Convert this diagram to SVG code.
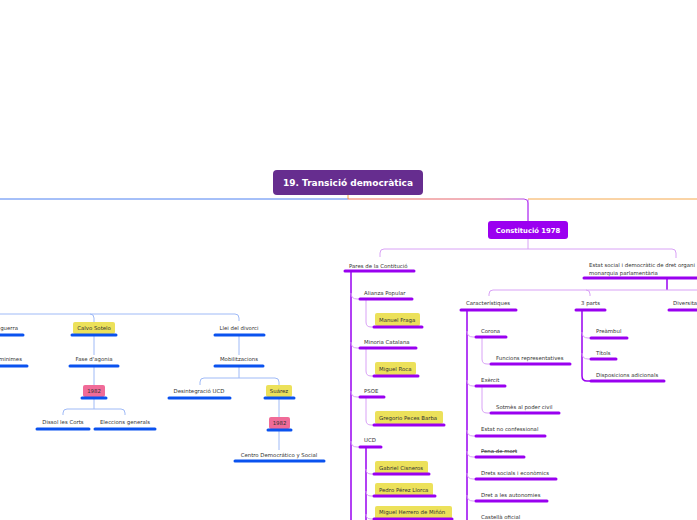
<svg xmlns="http://www.w3.org/2000/svg" width="697" height="520" viewBox="0 0 697 520">
<defs>
<linearGradient id="gr" x1="0" y1="0" x2="1" y2="0">
<stop offset="0" stop-color="#f4704f"/>
<stop offset="0.8" stop-color="#e0607a"/>
<stop offset="1" stop-color="#b040f0"/>
</linearGradient>
<style>
.t{font-family:"DejaVu Sans",Verdana,sans-serif;font-size:5.4px;fill:#333}
.c{text-anchor:middle}
.up{stroke:#9900f0;stroke-width:3;stroke-linecap:round}
.ub{stroke:#0a52ef;stroke-width:3;stroke-linecap:round}
.sp{stroke:#9900f0;stroke-width:1.5;fill:none}
.cp{stroke:#d9a2f6;stroke-width:1;fill:none}
.cb{stroke:#9fbaf7;stroke-width:1;fill:none}
.y{fill:#ece15a}
.pk{fill:#f06b98}
</style>
</defs>
<rect width="697" height="520" fill="#fff"/>
<g id="connectors">
<path d="M0,199 H348" stroke="#4d80f2" stroke-width="1" fill="none"/>
<path d="M348,195 V199" stroke="#f5a040" stroke-width="1"/>
<path d="M528,199 H697" stroke="#f5a84c" stroke-width="1" fill="none"/>
<path d="M348,199 H524 Q528,199 528,203 V221" stroke="url(#gr)" stroke-width="1" fill="none"/>
<path d="M528,199.5 Q528,199 528,203 V221" stroke="#c050f5" stroke-width="1" fill="none"/>
<path d="M528,239 V249" class="cp"/>
<path d="M380,257 V253 Q380,249 384,249 H672 Q676,249 676,253 V258" class="cp"/>
<path d="M351,271 V520" class="sp"/>
<path d="M351,293 Q351,299 357,299 H360 M351,342 Q351,348 357,348 H360 M351,391 Q351,397 357,397 H360 M351,441 Q351,447 357,447 H360" class="cp"/>
<path d="M366,299 V322 Q366,327 371,327 H374 M366,348 V371 Q366,376 371,376 H374 M366,397 V420 Q366,425 371,425 H374" class="cp"/>
<path d="M366,447 V520" class="sp"/>
<path d="M366,469 Q366,474 371,474 H374 M366,491 Q366,496 371,496 H374 M366,514 Q366,519 371,519 H374" class="cp"/>
<path d="M667,278 V290" class="sp"/>
<path d="M489,296 V294 Q489,290 493,290 H697 M586,290 Q590,290 590,294 V296" class="cp"/>
<path d="M467,310 V520" class="sp"/>
<path d="M467,331 Q467,337 473,337 H476 M467,380 Q467,386 473,386 H476 M467,430 Q467,436 473,436 H476 M467,451 Q467,457 473,457 H476 M467,473 Q467,479 473,479 H476 M467,495 Q467,501 473,501 H476" class="cp"/>
<path d="M482,337 V359 Q482,364 487,364 H491 M482,386 V408 Q482,413 487,413 H491" class="cp"/>
<path d="M582,310 V376 Q582,381 587,381 H591" class="sp"/>
<path d="M582,332 Q582,338 588,338 H591 M582,353 Q582,359 588,359 H591" class="cp"/>
<path d="M0,314 H235 Q239,314 239,318 V321 M90,314 Q94,314 94,318 V322" class="cb"/>
<path d="M94,335 V355 M94,366 V385 M94,398 V409 M63,415 V413 Q63,409 67,409 H121 Q125,409 125,413 V415" class="cb"/>
<path d="M239,335 V355 M239,366 V378 M200,385 V382 Q200,378 204,378 H275 Q279,378 279,382 V385" class="cb"/>
<path d="M279,398 V417 M279,430 V450" class="cb"/>
</g>
<g id="main">
<rect x="273" y="170" width="150" height="25" rx="4" fill="#662d8f"/>
<text x="348" y="186" class="c" font-family="DejaVu Sans,Verdana,sans-serif" font-size="9" font-weight="bold" fill="#fff">19. Transició democràtica</text>
</g>
<g id="constitucio">
<rect x="488" y="221" width="80" height="18" rx="3" fill="#9b00f0"/>
<text x="528" y="233" class="c" font-family="DejaVu Sans,Verdana,sans-serif" font-size="6.8" font-weight="bold" fill="#fff">Constitució 1978</text>
</g>
<g id="pares"><text class="t" x="349" y="268">Pares de la Contitució</text><line class="up" x1="345" y1="271" x2="414" y2="271"/></g>
<g id="ap"><text class="t" x="364" y="295">Alianza Popular</text><line class="up" x1="360" y1="299" x2="412" y2="299"/></g>
<g id="fraga"><rect class="y" x="375" y="313" width="45" height="13" rx="2"/><text class="t" x="379" y="322">Manuel Fraga</text><line class="up" x1="374" y1="327" x2="422" y2="327"/></g>
<g id="mc"><text class="t" x="364" y="344">Minoria Catalana</text><line class="up" x1="360" y1="348" x2="416" y2="348"/></g>
<g id="roca"><rect class="y" x="375" y="362" width="41" height="13" rx="2"/><text class="t" x="379" y="371">Miguel Roca</text><line class="up" x1="374" y1="376" x2="418" y2="376"/></g>
<g id="psoe"><text class="t" x="364" y="393">PSOE</text><line class="up" x1="360" y1="397" x2="384" y2="397"/></g>
<g id="peces"><rect class="y" x="375" y="411" width="68" height="13" rx="2"/><text class="t" x="379" y="420">Gregorio Peces Barba</text><line class="up" x1="374" y1="425" x2="444" y2="425"/></g>
<g id="ucd"><text class="t" x="364" y="442">UCD</text><line class="up" x1="360" y1="447" x2="381" y2="447"/></g>
<g id="cisneros"><rect class="y" x="375" y="461" width="53" height="13" rx="2"/><text class="t" x="379" y="470">Gabriel Cisneros</text><line class="up" x1="374" y1="474" x2="429" y2="474"/></g>
<g id="llorca"><rect class="y" x="375" y="483" width="58" height="13" rx="2"/><text class="t" x="379" y="492">Pedro Pérez Llorca</text><line class="up" x1="374" y1="496" x2="435" y2="496"/></g>
<g id="minon"><rect class="y" x="375" y="506" width="77" height="13" rx="2"/><text class="t" x="379" y="514">Miguel Herrero de Miñón</text><line class="up" x1="374" y1="519" x2="452" y2="519"/></g>
<g id="estat"><text class="t" x="589" y="267">Estat social i democràtic de dret organi</text><text class="t" x="589" y="275">monarquia parlamentària</text><line class="up" x1="584" y1="278" x2="700" y2="278"/></g>
<g id="caract"><text class="t" x="466" y="305">Característiques</text><line class="up" x1="461" y1="310" x2="516" y2="310"/></g>
<g id="corona"><text class="t" x="481" y="333">Corona</text><line class="up" x1="476" y1="337" x2="506" y2="337"/></g>
<g id="funcions"><text class="t" x="496" y="360">Funcions representatives</text><line class="up" x1="491" y1="364" x2="570" y2="364"/></g>
<g id="exercit"><text class="t" x="481" y="382">Exèrcit</text><line class="up" x1="476" y1="386" x2="505" y2="386"/></g>
<g id="sotmes"><text class="t" x="496" y="409">Sotmès al poder civil</text><line class="up" x1="491" y1="413" x2="559" y2="413"/></g>
<g id="confes"><text class="t" x="481" y="431">Estat no confessional</text><line class="up" x1="476" y1="436" x2="545" y2="436"/></g>
<g id="pena"><text class="t" x="481" y="453" text-decoration="line-through">Pena de mort</text><line class="up" x1="476" y1="457" x2="524" y2="457"/></g>
<g id="drets"><text class="t" x="481" y="475">Drets socials i econòmics</text><line class="up" x1="476" y1="479" x2="556" y2="479"/></g>
<g id="auton"><text class="t" x="481" y="497">Dret a les autonomies</text><line class="up" x1="476" y1="501" x2="547" y2="501"/></g>
<g id="castella"><text class="t" x="481" y="519">Castellà oficial</text></g>
<g id="parts"><text class="t" x="581" y="305">3 parts</text><line class="up" x1="576" y1="310" x2="605" y2="310"/></g>
<g id="preambul"><text class="t" x="596" y="333">Preàmbul</text><line class="up" x1="591" y1="338" x2="627" y2="338"/></g>
<g id="titols"><text class="t" x="596" y="355">Títols</text><line class="up" x1="591" y1="359" x2="616" y2="359"/></g>
<g id="dispos"><text class="t" x="596" y="377">Disposicions adicionals</text><line class="up" x1="591" y1="381" x2="664" y2="381"/></g>
<g id="divers"><text class="t" x="673" y="305">Diversita</text><line class="up" x1="669" y1="310" x2="700" y2="310"/></g>
<g id="guerra"><text class="t" x="18" y="330" text-anchor="end">guerra</text><line class="ub" x1="-5" y1="335" x2="23" y2="335"/></g>
<g id="minimes"><text class="t" x="22" y="361" text-anchor="end">minimes</text><line class="ub" x1="-5" y1="366" x2="27" y2="366"/></g>
<g id="calvo"><rect class="y" x="73" y="322" width="42" height="12" rx="2"/><text class="t c" x="94" y="330">Calvo Sotelo</text><line class="ub" x1="72" y1="335" x2="116" y2="335"/></g>
<g id="fase"><text class="t c" x="94" y="361">Fase d'agonia</text><line class="ub" x1="70" y1="366" x2="118" y2="366"/></g>
<g id="y1982a"><rect class="pk" x="83" y="385" width="22" height="12" rx="2"/><text class="t c" x="94" y="393">1982</text><line class="ub" x1="82" y1="398" x2="106" y2="398"/></g>
<g id="dissol"><text class="t c" x="63" y="424">Dissol les Corts</text><line class="ub" x1="37" y1="429" x2="89" y2="429"/></g>
<g id="eleccions"><text class="t c" x="125" y="424">Eleccions generals</text><line class="ub" x1="95" y1="429" x2="155" y2="429"/></g>
<g id="divorci"><text class="t c" x="239" y="330">Llei del divorci</text><line class="ub" x1="215" y1="335" x2="264" y2="335"/></g>
<g id="mobil"><text class="t c" x="239" y="361">Mobilitzacions</text><line class="ub" x1="215" y1="366" x2="263" y2="366"/></g>
<g id="desint"><text class="t c" x="199" y="393">Desintegració UCD</text><line class="ub" x1="169" y1="398" x2="230" y2="398"/></g>
<g id="suarez"><rect class="y" x="266" y="385" width="26" height="12" rx="2"/><text class="t c" x="279" y="393">Suárez</text><line class="ub" x1="265" y1="398" x2="294" y2="398"/></g>
<g id="y1982b"><rect class="pk" x="269" y="417" width="21" height="12" rx="2"/><text class="t c" x="279.5" y="425">1982</text><line class="ub" x1="268" y1="430" x2="291" y2="430"/></g>
<g id="cds"><text class="t c" x="279" y="457">Centro Democrático y Social</text><line class="ub" x1="235" y1="461" x2="324" y2="461"/></g>
</svg>
